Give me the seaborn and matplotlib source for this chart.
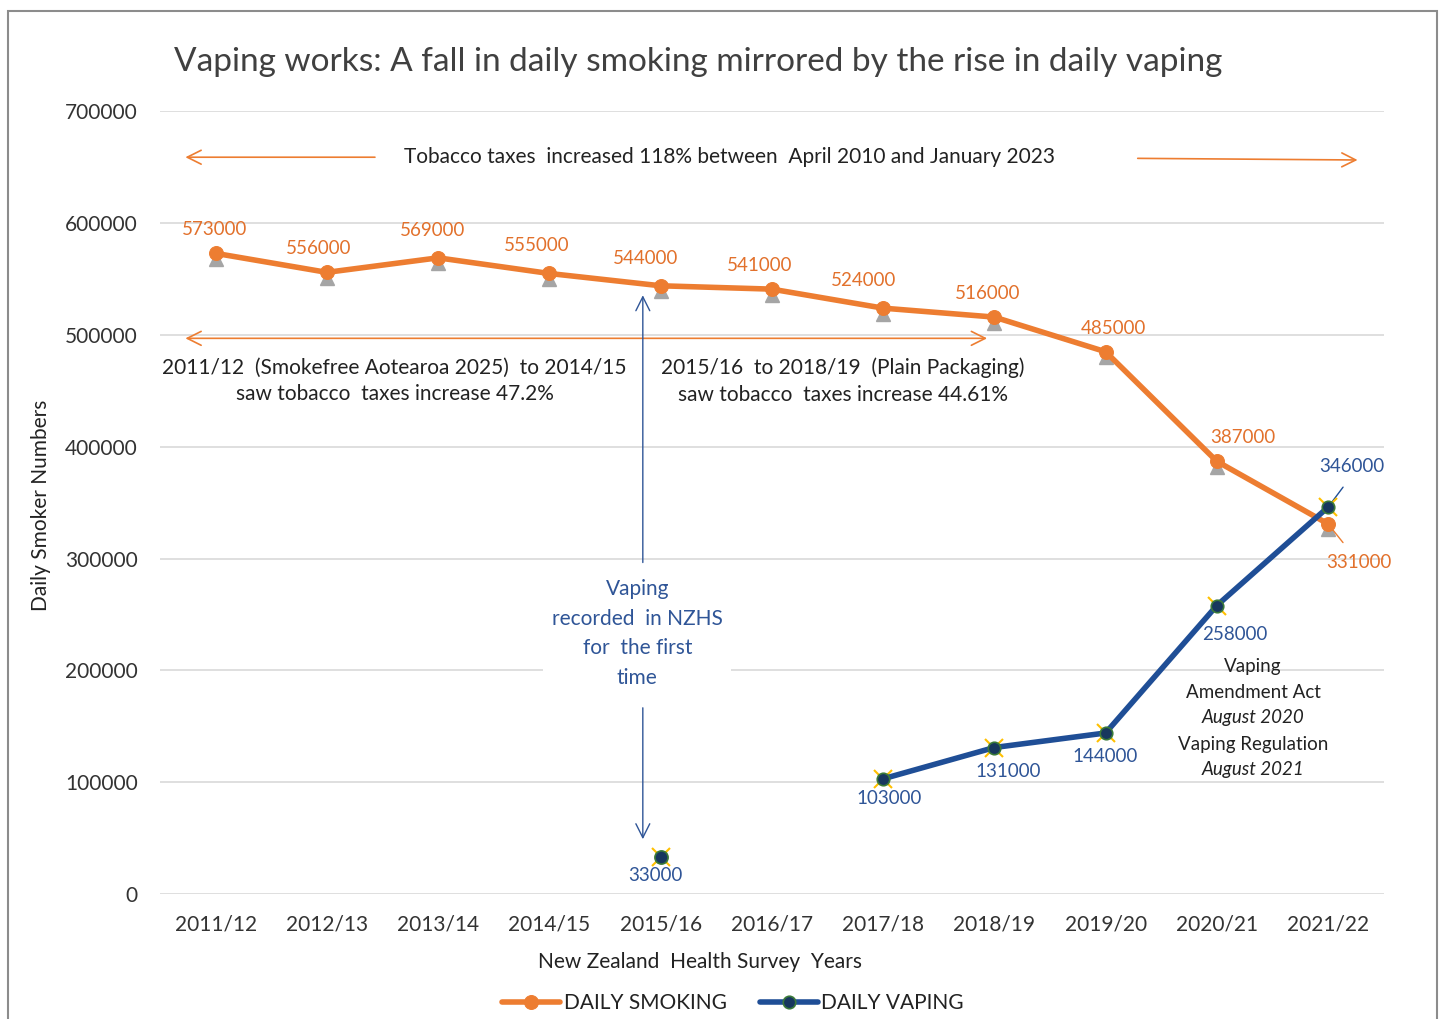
import numpy as np
import pandas as pd
import seaborn as sns
import matplotlib.pyplot as plt
from matplotlib.patches import Rectangle
from matplotlib.transforms import offset_copy

years = ["2011/12", "2012/13", "2013/14", "2014/15", "2015/16", "2016/17",
         "2017/18", "2018/19", "2019/20", "2020/21", "2021/22"]
smoking = [573000, 556000, 569000, 555000, 544000, 541000, 524000, 516000, 485000, 387000, 331000]
vaping = [np.nan, np.nan, np.nan, np.nan, 33000, np.nan, 103000, 131000, 144000, 258000, 346000]

ORANGE = "#ED7D31"
ORANGE_TXT = "#E2712C"
BLUE = "#1F4E96"
BLUE_TXT = "#2F5597"
DARK = "#404040"

sns.set_theme(style="white")
plt.rcParams['font.family'] = ['Lato', 'DejaVu Sans']

df = pd.DataFrame({"Year": years, "x": np.arange(len(years)), "Smoking": smoking, "Vaping": vaping})
vap_line = df[df["x"] >= 6]
vap_first = df[df["x"] == 4]

fig = plt.figure(figsize=(14.43, 10.19), dpi=100)
ax = fig.add_axes([0.1109, 0.1227, 0.848, 0.768])

# outer frame
fig.patches.append(Rectangle((8 / 1443, -0.05), 1429 / 1443, 1 - 11 / 1019 + 0.05,
                             transform=fig.transFigure, fill=False, edgecolor="#8C8C8C", lw=1.5))

# smoking: gray triangle under orange circle
tri_tr = offset_copy(ax.transData, fig=fig, x=0, y=-4, units="points")
ax.plot(df["x"], df["Smoking"], "^", color="#A5A5A5", ms=10, transform=tri_tr, zorder=3)
sns.lineplot(data=df, x="x", y="Smoking", ax=ax, color=ORANGE, lw=4, marker="o", ms=10,
             markeredgecolor=ORANGE, label="DAILY SMOKING", zorder=4)

# vaping: yellow x behind dark circle
for part in (vap_line, vap_first):
    ax.plot(part["x"], part["Vaping"], "x", color="#FFC000", ms=13, mew=1.5, zorder=5)
sns.lineplot(data=vap_line, x="x", y="Vaping", ax=ax, color=BLUE, lw=4, marker="o", ms=9,
             markerfacecolor="#17375E", markeredgecolor="#3A7A3A", mew=1.2,
             label="DAILY VAPING", zorder=6)
sns.scatterplot(data=vap_first, x="x", y="Vaping", ax=ax, color="#17375E", s=90,
                edgecolor="#3A7A3A", linewidth=1.2, zorder=6)

# data labels (offsets in points)
smk_off = [(-1, 17), (-6, 17), (-4, 20), (-9, 20), (-11, 20), (-9, 17), (-14, 20),
           (-5, 17), (6, 17), (19, 17), (22, -28)]
for i, v in enumerate(smoking):
    ax.annotate(f"{v}", (i, v), xytext=smk_off[i], textcoords="offset points",
                ha="center", va="center", color=ORANGE_TXT, fontsize=13.5, zorder=7)
vap_off = {4: (-4, -13), 6: (4, -14), 7: (10, -17), 8: (0, -17), 9: (13, -21), 10: (17, 29)}
for i, v in enumerate(vaping):
    if np.isnan(v):
        continue
    ax.annotate(f"{int(v)}", (i, v), xytext=vap_off[i], textcoords="offset points",
                ha="center", va="center", color=BLUE_TXT, fontsize=13.5, zorder=7)

# leader lines for the last two labels
ax.annotate("", (10, smoking[10]), xytext=(12, -15), textcoords="offset points",
            arrowprops=dict(arrowstyle="-", color=ORANGE, lw=1))
ax.annotate("", (10, vaping[10]), xytext=(12, 16), textcoords="offset points",
            arrowprops=dict(arrowstyle="-", color=BLUE, lw=1))

# tobacco tax arrows and notes
arr = dict(arrowstyle="->", color=ORANGE, lw=1.2, mutation_scale=25)
ax.annotate("", xy=(-0.297, 659000), xytext=(1.457, 659000), arrowprops=arr)
ax.annotate("", xy=(10.29, 656500), xytext=(8.264, 658000), arrowprops=arr)
ax.text(4.62, 659000, "Tobacco taxes  increased 118% between  April 2010 and January 2023",
        ha="center", va="center", fontsize=15, color="#222222")
ax.annotate("", xy=(-0.297, 497000), xytext=(6.96, 497000),
            arrowprops=dict(arrowstyle="<->", color=ORANGE, lw=1.2, mutation_scale=25))
ax.text(1.61, 458600, "2011/12  (Smokefree Aotearoa 2025)  to 2014/15\nsaw tobacco  taxes increase 47.2%",
        ha="center", va="center", fontsize=15, color="#222222", linespacing=1.4)
ax.text(5.64, 458600, "2015/16  to 2018/19  (Plain Packaging)\nsaw tobacco  taxes increase 44.61%",
        ha="center", va="center", fontsize=15, color="#222222", linespacing=1.4)

# first vaping record note
barr = dict(arrowstyle="->", color=BLUE_TXT, lw=1, mutation_scale=25)
ax.annotate("", xy=(3.84, 538000), xytext=(3.84, 294000), arrowprops=barr)
ax.annotate("", xy=(3.84, 46500), xytext=(3.84, 169000), arrowprops=barr)
ax.text(3.79, 233000, "Vaping\nrecorded  in NZHS\nfor  the first\ntime", ha="center", va="center",
        fontsize=15, color=BLUE_TXT, linespacing=1.6,
        bbox=dict(facecolor="white", edgecolor="none", pad=6), zorder=5)

# regulation note
reg_lines = [("Vaping", "normal", 203800), ("Amendment Act", "normal", 180600),
             ("August 2020", "italic", 158200), ("Vaping Regulation", "normal", 134100),
             ("August 2021", "italic", 111750)]
for txt, st, yv in reg_lines:
    ax.text(9.325, yv, txt, ha="center", va="center", fontsize=13.5, style=st, color="#222222")

ax.set_xlim(-0.5, 10.5)
ax.set_ylim(0, 700000)
ax.set_xticks(df["x"])
ax.set_xticklabels(years)
ax.set_yticks(np.arange(0, 700001, 100000))
ax.set_yticklabels([f"{v}" for v in range(0, 700001, 100000)])
ax.tick_params(axis="both", length=0, labelsize=15, labelcolor="#333333")
ax.tick_params(axis="y", pad=16)
ax.tick_params(axis="x", pad=15)
ax.grid(axis="y", color="#D9D9D9", lw=1.2)
ax.grid(axis="x", visible=False)
for s in ax.spines.values():
    s.set_visible(False)

ax.set_ylabel("Daily Smoker Numbers", fontsize=15, color="#222222")
ax.set_xlabel("New Zealand  Health Survey  Years", fontsize=15, color="#222222")
ax.yaxis.set_label_coords(-0.089, 0.497)
ax.xaxis.set_label_coords(0.441, -0.074)

fig.text(0.4837, 0.939, "Vaping works: A fall in daily smoking mirrored by the rise in daily vaping",
         ha="center", va="center", fontsize=24, color=DARK)

leg = ax.legend(loc="center", bbox_to_anchor=(0.508, 0.0157), bbox_transform=fig.transFigure,
                ncol=2, frameon=False, fontsize=15, handlelength=2.8, columnspacing=1.6,
                handletextpad=0.15)
for t in leg.get_texts():
    t.set_color("#222222")

fig.savefig("out.png", dpi=100)
